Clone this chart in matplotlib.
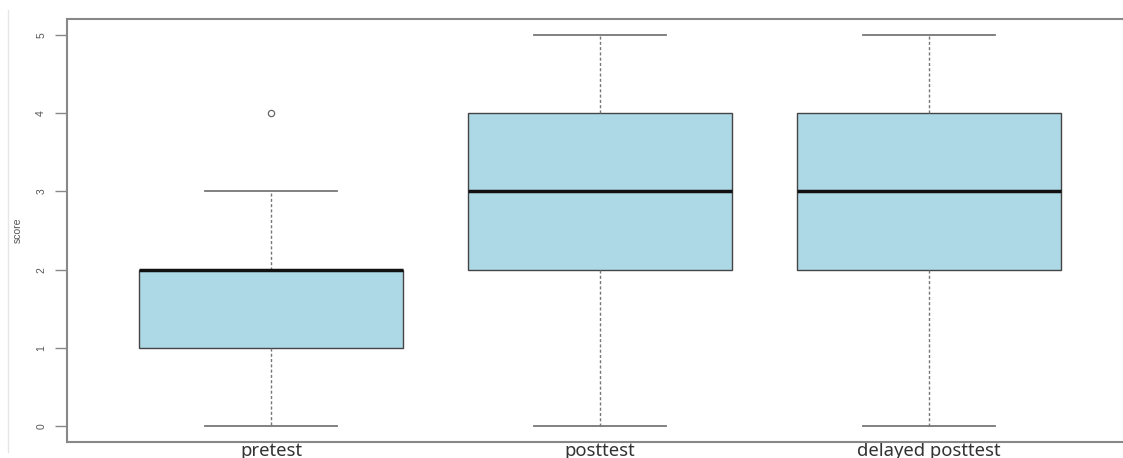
import matplotlib.pyplot as plt
from matplotlib.lines import Line2D

# Five-number summaries per test session
groups = ["pretest", "posttest", "delayed posttest"]
whisker_low = [0, 0, 0]
q1 = [1, 2, 2]
medians = [2, 3, 3]
q3 = [2, 4, 4]
whisker_high = [3, 5, 5]
outliers = [[4], [], []]

stats = [
    dict(label=g, whislo=lo, q1=a, med=m, q3=b, whishi=hi, fliers=f)
    for g, lo, a, m, b, hi, f in zip(groups, whisker_low, q1, medians, q3, whisker_high, outliers)
]

fig = plt.figure(figsize=(11.23, 4.58), dpi=100)
# axes run past the right edge of the figure
ax = fig.add_axes([67 / 1123, 16 / 458, 1100 / 1123, 423 / 458])

ax.bxp(
    stats,
    positions=[1, 2, 3],
    widths=0.8,
    patch_artist=True,
    boxprops=dict(facecolor="#add8e6", edgecolor="#444444", linewidth=1.0),
    medianprops=dict(color="#111111", linewidth=2.5, solid_capstyle="butt"),
    whiskerprops=dict(color="#777777", linewidth=1.0, linestyle=(0, (2.2, 1.6))),
    capprops=dict(color="#777777", linewidth=1.3),
    capwidths=0.4,
    flierprops=dict(marker="o", markersize=4.5, markerfacecolor="none",
                    markeredgecolor="#666666", markeredgewidth=0.9),
)

ax.set_xlim(0.38, 0.38 + 1100 / 329)
ax.set_ylim(-0.2, 5.2)

ax.set_yticks(range(6))
ax.set_yticklabels([str(v) for v in range(6)], rotation=90, va="center",
                   fontsize=7.5, color="#555555", family="Liberation Sans")
ax.tick_params(axis="y", length=9, width=1.0, color="#888888", pad=6)
ax.set_ylabel("score", fontsize=7.5, color="#555555", family="Liberation Sans",
              labelpad=10)

ax.set_xticks([1, 2, 3])
ax.set_xticklabels(groups, fontsize=13.3, color="#333333", family="Noto Sans")
ax.tick_params(axis="x", length=0, pad=0)

for spine in ax.spines.values():
    spine.set_color("#888888")
    spine.set_linewidth(1.5)

# thin divider line on the far left
fig.add_artist(Line2D([8 / 1123, 8 / 1123], [1 - 10 / 458, 1 - 452 / 458],
                      transform=fig.transFigure, color="#e6e6e6", linewidth=1.0))

fig.savefig("out.png", dpi=100)
